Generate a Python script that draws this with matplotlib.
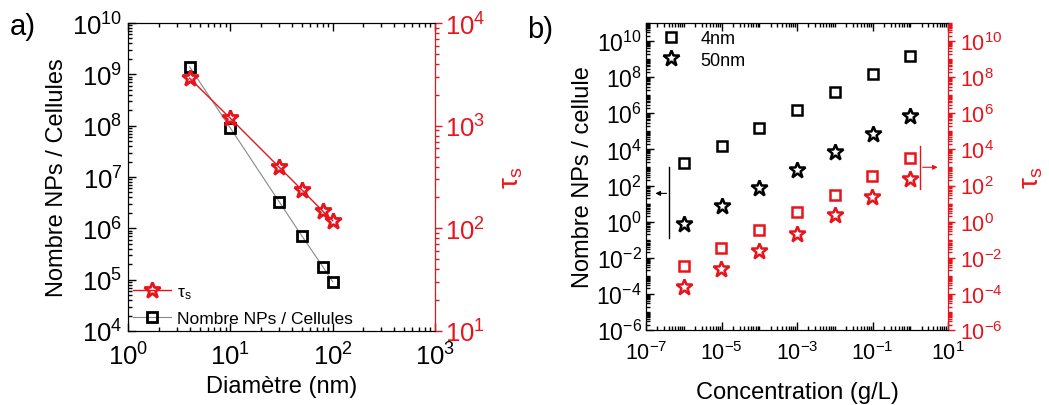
import numpy as np
import matplotlib
matplotlib.use("Agg")
import matplotlib.pyplot as plt
from matplotlib.ticker import FixedLocator, LogFormatterMathtext, NullFormatter
from matplotlib.lines import Line2D

plt.rcParams['font.family'] = ['Liberation Sans', 'DejaVu Sans']
plt.rcParams['mathtext.fontset'] = 'custom'
plt.rcParams['mathtext.rm'] = 'Liberation Sans'
plt.rcParams['mathtext.it'] = 'Liberation Sans:italic'
plt.rcParams['mathtext.bf'] = 'Liberation Sans:bold'

RED = '#e8141c'

# ---- Panel a data ----
diam_nm = [4, 10, 30, 50, 80, 100]
nps_per_cell = [1.4e9, 9.0e7, 3.3e6, 7.1e5, 1.8e5, 9.1e4]
tau_s_a = [2900, 1180, 394, 237, 147, 119]

# ---- Panel b data ----
conc_gL = [1e-6, 1e-5, 1e-4, 1e-3, 1e-2, 1e-1, 1e0]
nps_4nm = [1.7e3, 1.6e4, 1.5e5, 1.6e6, 1.45e7, 1.5e8, 1.5e9]
nps_50nm = [0.74, 7.6, 73, 720, 6.9e3, 7.1e4, 7.4e5]
tau_4nm = [3.4e-3, 3.3e-2, 0.35, 3.3, 31, 324, 3300]
tau_50nm = [2.3e-4, 2.4e-3, 2.5e-2, 0.22, 2.3, 22, 230]

W, H = 1049, 406
fig = plt.figure(figsize=(W / 100, H / 100), dpi=100)

def rect(l, r, t, b):
    return [l / W, 1 - b / H, (r - l) / W, (b - t) / H]

LAB_FS = 17

def minor_all(lo, hi):
    vals = []
    for k in range(lo, hi):
        for s in range(2, 10):
            vals.append(s * 10.0 ** k)
    return vals

def style_inside(ax, fs):
    ax.tick_params(which='both', direction='in', top=True, right=False, labelsize=fs, width=1.0)
    ax.tick_params(which='major', length=6)
    ax.tick_params(which='minor', length=3)
    ax.tick_params(axis='x', which='major', pad=8)

# ===== Panel a =====
FS_A = 18.5
axa = fig.add_axes(rect(128, 435, 24, 332))
axa.set_xscale('log'); axa.set_yscale('log')
axa.set_xlim(1, 1e3); axa.set_ylim(1e4, 1e10)
axa.plot(diam_nm, nps_per_cell, color='#888888', lw=0.8, marker='s', ms=7,
         mfc='none', mec='black', mew=2.0, zorder=3)
axa.xaxis.set_major_locator(FixedLocator([1, 10, 100, 1000]))
axa.xaxis.set_minor_locator(FixedLocator(minor_all(0, 3)))
axa.yaxis.set_major_locator(FixedLocator([10.0 ** k for k in range(4, 11)]))
axa.yaxis.set_minor_locator(FixedLocator(minor_all(4, 10)))
axa.xaxis.set_major_formatter(LogFormatterMathtext())
axa.yaxis.set_major_formatter(LogFormatterMathtext())
axa.xaxis.set_minor_formatter(NullFormatter())
axa.yaxis.set_minor_formatter(NullFormatter())
style_inside(axa, FS_A)
axa.tick_params(axis='y', which='major', pad=4)
axa.set_xlabel('Diamètre (nm)', fontsize=LAB_FS, labelpad=4)
axa.set_ylabel('Nombre NPs / Cellules', fontsize=LAB_FS, labelpad=3)

axa2 = axa.twinx()
axa2.set_yscale('log')
axa2.set_ylim(10, 1e4)
axa2.plot(diam_nm, tau_s_a, color=RED, lw=1.0, marker='*', ms=12,
          mfc='none', mec=RED, mew=2.0, zorder=3)
axa2.yaxis.set_major_locator(FixedLocator([10, 100, 1000, 10000]))
axa2.yaxis.set_minor_locator(FixedLocator(minor_all(1, 4)))
axa2.yaxis.set_major_formatter(LogFormatterMathtext())
axa2.yaxis.set_minor_formatter(NullFormatter())
axa2.tick_params(which='both', direction='out', colors=RED, labelsize=FS_A, width=1.0, pad=2)
axa2.tick_params(which='major', length=5)
axa2.tick_params(which='minor', length=3)
axa2.spines['right'].set_color(RED)
axa2.set_ylabel(r'$\mathregular{\tau_s}$', color=RED, fontsize=20, labelpad=10)

h1 = Line2D([], [], color=RED, lw=1.0, marker='*', ms=12, mfc='none', mec=RED, mew=2.0)
h2 = Line2D([], [], color='#888888', lw=0.8, marker='s', ms=7, mfc='none', mec='black', mew=2.0)
leg = axa.legend([h1, h2], [r'$\mathregular{\tau_s}$', 'Nombre NPs / Cellules'],
                 loc='lower left', frameon=False, fontsize=12.5, handlelength=2.2,
                 handletextpad=0.3, borderaxespad=0.1, labelspacing=0.55, borderpad=0.2)

fig.text(10 / W, 1 - 27 / H, 'a)', fontsize=21, va='center', ha='left')

# ===== Panel b =====
FS_B = 15.5
axb = fig.add_axes(rect(646, 948, 24, 331))
axb.set_xscale('log'); axb.set_yscale('log')
axb.set_xlim(1e-7, 1e1); axb.set_ylim(1e-6, 1e11)
axb.plot(conc_gL, nps_4nm, ls='none', marker='s', ms=7, mfc='none', mec='black', mew=1.8, label='4nm')
axb.plot(conc_gL, nps_50nm, ls='none', marker='*', ms=12, mfc='none', mec='black', mew=1.8, label='50nm')
axb.xaxis.set_major_locator(FixedLocator([10.0 ** k for k in range(-7, 2, 2)]))
axb.xaxis.set_minor_locator(FixedLocator([10.0 ** k for k in range(-7, 2)] + minor_all(-7, 1)))
axb.yaxis.set_major_locator(FixedLocator([10.0 ** k for k in range(-6, 11, 2)]))
axb.yaxis.set_minor_locator(FixedLocator([10.0 ** k for k in range(-6, 12)] + minor_all(-6, 11)))
axb.xaxis.set_major_formatter(LogFormatterMathtext())
axb.yaxis.set_major_formatter(LogFormatterMathtext())
axb.xaxis.set_minor_formatter(NullFormatter())
axb.yaxis.set_minor_formatter(NullFormatter())
style_inside(axb, FS_B)
axb.tick_params(axis='y', which='major', labelsize=16.5, pad=3)
axb.set_xlabel('Concentration (g/L)', fontsize=LAB_FS, labelpad=12)
axb.set_ylabel('Nombre NPs / cellule', fontsize=LAB_FS, labelpad=2)
axb.legend(loc='upper left', frameon=False, fontsize=13, handletextpad=0.6,
           borderaxespad=0.1, labelspacing=0.25, borderpad=0.3)

axb2 = axb.twinx()
axb2.set_yscale('log')
axb2.set_ylim(1e-6, 1e11)
axb2.plot(conc_gL, tau_4nm, ls='none', marker='s', ms=7, mfc='none', mec=RED, mew=1.8)
axb2.plot(conc_gL, tau_50nm, ls='none', marker='*', ms=12, mfc='none', mec=RED, mew=1.8)
axb2.yaxis.set_major_locator(FixedLocator([10.0 ** k for k in range(-6, 11, 2)]))
axb2.yaxis.set_minor_locator(FixedLocator([10.0 ** k for k in range(-6, 12)] + minor_all(-6, 11)))
axb2.yaxis.set_major_formatter(LogFormatterMathtext())
axb2.yaxis.set_minor_formatter(NullFormatter())
axb2.tick_params(which='both', direction='out', colors=RED, labelsize=FS_B, width=1.0)
axb2.tick_params(which='major', length=5)
axb2.tick_params(which='minor', length=3)
axb2.spines['right'].set_color(RED)
axb2.set_ylabel(r'$\mathregular{\tau_s}$', color=RED, fontsize=20, labelpad=12)

# bracket arrows (axes fraction)
axb.plot([0.077, 0.077], [0.30, 0.53], color='black', lw=1.0, transform=axb.transAxes)
axb.annotate('', xy=(0.022, 0.445), xytext=(0.077, 0.445), xycoords='axes fraction',
             arrowprops=dict(arrowstyle='-|>', color='black', lw=0.8, mutation_scale=7))
axb2.plot([0.907, 0.907], [0.46, 0.60], color=RED, lw=1.0, transform=axb2.transAxes)
axb2.annotate('', xy=(0.975, 0.53), xytext=(0.907, 0.53), xycoords='axes fraction',
              arrowprops=dict(arrowstyle='-|>', color=RED, lw=0.8, mutation_scale=7))

fig.text(527 / W, 1 - 30 / H, 'b)', fontsize=21, va='center', ha='left')

fig.savefig('out.png', dpi=100)
